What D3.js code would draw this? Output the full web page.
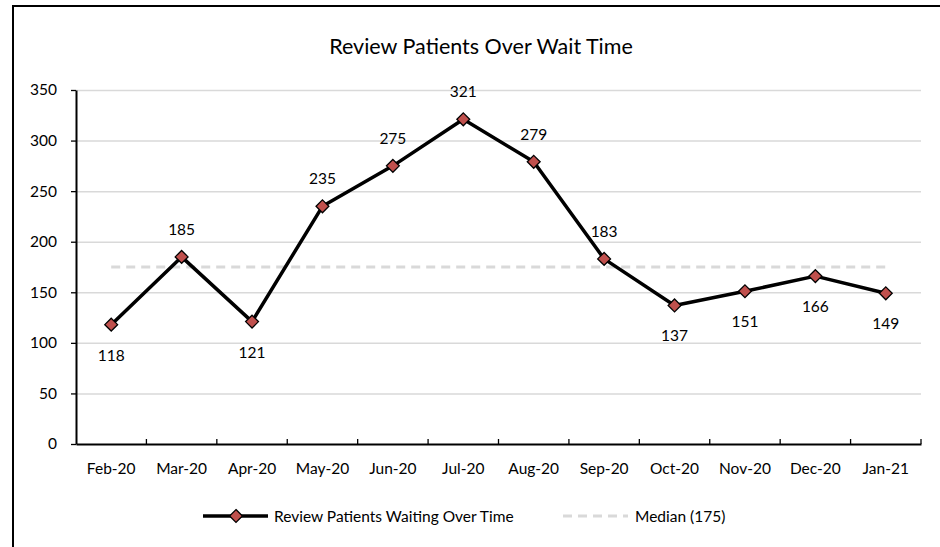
<html>
<head>
    <meta charset="utf-8">
    <script src="https://d3js.org/d3.v7.min.js"></script>
    <title>Review Patients</title>
</head>
<style>
    body { margin: 0; background: #fff; }
    text { font-family: Lato, "Open Sans", sans-serif; fill: #000; }
    .gridlines line { stroke: #d9d9d9; stroke-width: 1.5; }
    .gridlines .domain { stroke: none; }
</style>
<body>
<svg id="svg1"></svg>
<script>
    // data
    const months = ["Feb-20", "Mar-20", "Apr-20", "May-20", "Jun-20", "Jul-20",
                    "Aug-20", "Sep-20", "Oct-20", "Nov-20", "Dec-20", "Jan-21"];
    const waiting = [118, 185, 121, 235, 275, 321, 279, 183, 137, 151, 166, 149];
    const labelBelow = [true, false, true, false, false, false, false, false, true, true, true, true];
    const median = 175;
    const yTicks = [0, 50, 100, 150, 200, 250, 300, 350];

    const width = 940;
    const height = 547;
    let svg1 = d3.select("svg#svg1")
                 .attr("width", width)
                 .attr("height", height);

    // outer chart frame (cut off on right / bottom in the original)
    svg1.append("rect")
        .attr("x", 13).attr("y", 6)
        .attr("width", 1000).attr("height", 1000)
        .attr("fill", "none")
        .attr("stroke", "#000")
        .attr("stroke-width", 2);

    const margins = {top: 90, right: 19, bottom: 103, left: 76};
    const chartWidth = width - margins.left - margins.right;
    const chartHeight = 444 - margins.top;
    const fs = "15.5px";

    const scaleX = d3.scaleBand()
                     .domain(months)
                     .range([0, chartWidth]);
    const scaleY = d3.scaleLinear()
                     .domain([0, 350])
                     .range([chartHeight, 0]);

    let chartArea = svg1.append("g")
                        .attr("transform", `translate(${margins.left}, ${margins.top})`);

    // title
    svg1.append("text")
        .attr("x", 481).attr("y", 54)
        .attr("text-anchor", "middle")
        .style("font-size", "21.5px")
        .text("Review Patients Over Wait Time");

    // gridlines
    chartArea.append("g")
             .attr("class", "gridlines")
             .call(d3.axisLeft(scaleY).tickValues(yTicks.slice(1)).tickSize(-chartWidth).tickFormat(""));

    // y axis
    let leftAxis = chartArea.append("g")
             .call(d3.axisLeft(scaleY).tickValues(yTicks).tickSize(5).tickSizeOuter(0).tickPadding(14));
    leftAxis.selectAll("line").attr("stroke", "#000").attr("stroke-width", 1.3);
    leftAxis.select(".domain").attr("stroke", "#000").attr("stroke-width", 2);
    leftAxis.selectAll("text").style("font-size", fs).style("font-family", "Lato, sans-serif");

    // x axis: ticks between categories, pointing up
    let botAxis = chartArea.append("g")
             .attr("transform", `translate(0, ${chartHeight})`)
             .call(d3.axisBottom(scaleX).tickSize(0).tickPadding(19).tickSizeOuter(0));
    botAxis.select(".domain").attr("stroke", "#000").attr("stroke-width", 2);
    botAxis.selectAll("text").style("font-size", fs).style("font-family", "Lato, sans-serif");
    botAxis.selectAll(".sep")
           .data(months)
           .join("line")
           .attr("class", "sep")
           .attr("x1", d => scaleX(d) + scaleX.bandwidth())
           .attr("x2", d => scaleX(d) + scaleX.bandwidth())
           .attr("y1", 0).attr("y2", -5)
           .attr("stroke", "#000").attr("stroke-width", 1.3);

    const cx = d => scaleX(d) + scaleX.bandwidth() / 2;

    // median line
    chartArea.append("line")
             .attr("x1", cx(months[0]))
             .attr("x2", cx(months[months.length - 1]))
             .attr("y1", scaleY(median)).attr("y2", scaleY(median))
             .attr("stroke", "#d9d9d9")
             .attr("stroke-width", 3)
             .attr("stroke-dasharray", "9,6");

    // main line
    const lineGen = d3.line()
                      .x((d, i) => cx(months[i]))
                      .y(d => scaleY(d));
    chartArea.append("path")
             .attr("d", lineGen(waiting))
             .attr("fill", "none")
             .attr("stroke", "#000")
             .attr("stroke-width", 3.5)
             .attr("stroke-linejoin", "round");

    const diamond = d3.symbol().type(d3.symbolDiamond2).size(105);
    chartArea.selectAll(".pt")
             .data(waiting)
             .join("path")
             .attr("class", "pt")
             .attr("d", diamond)
             .attr("transform", (d, i) => `translate(${cx(months[i])}, ${scaleY(d)})`)
             .attr("fill", "#c0504d")
             .attr("stroke", "#000")
             .attr("stroke-width", 1.3);

    chartArea.selectAll(".lbl")
             .data(waiting)
             .join("text")
             .attr("class", "lbl")
             .attr("x", (d, i) => cx(months[i]))
             .attr("y", (d, i) => scaleY(d) + (labelBelow[i] ? 36 : -22))
             .attr("text-anchor", "middle")
             .style("font-size", fs)
             .text(d => d);

    // legend
    let legend = svg1.append("g").attr("transform", "translate(0, 516)");
    legend.append("line")
          .attr("x1", 203).attr("x2", 268)
          .attr("stroke", "#000").attr("stroke-width", 3.5);
    legend.append("path")
          .attr("d", diamond)
          .attr("transform", "translate(236, 0)")
          .attr("fill", "#c0504d").attr("stroke", "#000").attr("stroke-width", 1.3);
    legend.append("text")
          .attr("x", 274).attr("y", 5.5)
          .style("font-size", fs)
          .text("Review Patients Waiting Over Time");
    legend.append("line")
          .attr("x1", 563).attr("x2", 628)
          .attr("stroke", "#d9d9d9").attr("stroke-width", 3)
          .attr("stroke-dasharray", "9,6");
    legend.append("text")
          .attr("x", 635).attr("y", 5.5)
          .style("font-size", fs)
          .text(`Median (${median})`);
</script>
</body>
</html>
